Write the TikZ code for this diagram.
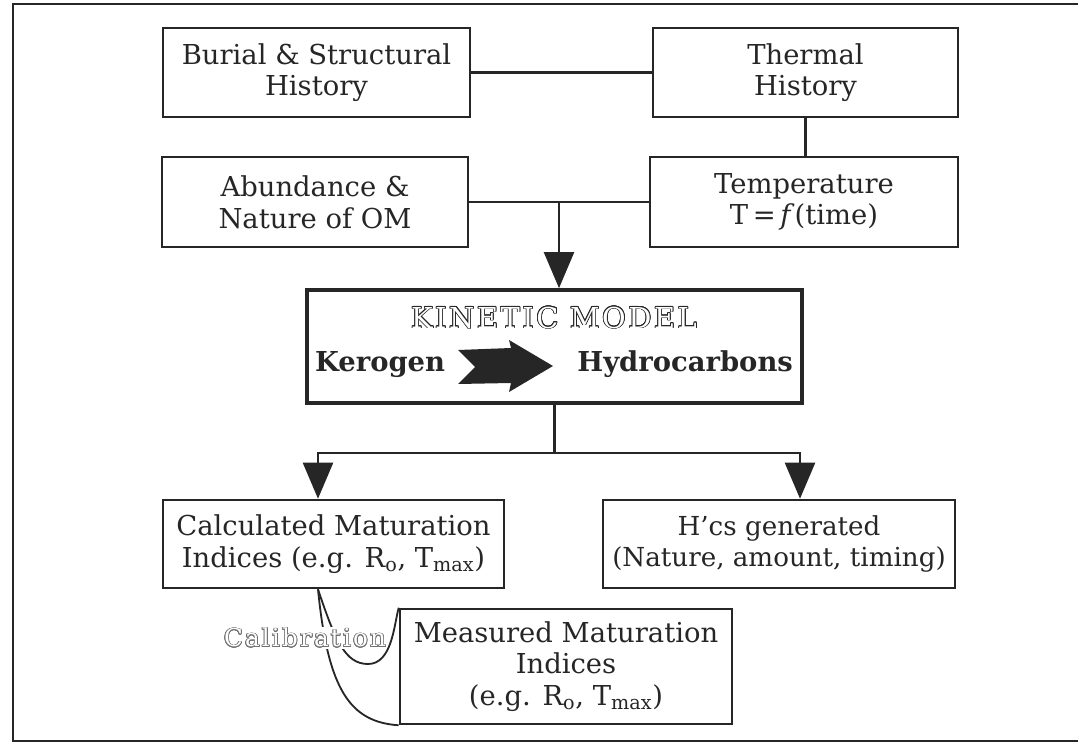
\documentclass[tikz,border=0pt]{standalone}
\usepackage{fontspec}
\setmainfont{DejaVu Serif}
\newfontfamily\hollowfont[LetterSpace=9]{DejaVu Serif}
\usepackage{contour}
\contourlength{0.55pt}
\usetikzlibrary{arrows.meta}
\definecolor{ink}{HTML}{262626}
\definecolor{faint}{HTML}{707070}
% white letters with a thin dark rim
\newcommand{\hollowtext}[2]{\textcolor{white}{\contour{#1}{#2}}}

\begin{document}
\begin{tikzpicture}[x=0.025cm,y=-0.025cm,color=ink,line width=1.6pt,
  >={Triangle[width=0.75cm,length=0.9cm]},
  box/.style={draw,line width=1.8pt,align=center,inner sep=0pt,font=\fontsize{19.5}{22.5}\selectfont},
  heavy/.style={font=\bfseries\fontsize{19.5}{22}\selectfont,inner sep=0pt},
  hollow/.style={font=\hollowfont\fontsize{20.5}{24}\selectfont,inner sep=0pt},
  curve/.style={line width=1.3pt}]
  \useasboundingbox (0,0) rectangle (1078,742);

  % frame
  \draw[line width=1.8pt] (1078,4) -- (13,4) -- (13,741) -- (1078,741);

  % boxes
  \node[box,minimum width=7.675cm,minimum height=2.225cm] (burial) at (316.5,72.5) {Burial \& Structural\\History};
  \node[box,minimum width=7.625cm,minimum height=2.225cm] (thermal) at (805.5,72.5) {Thermal\\History};
  \node[box,minimum width=7.65cm,minimum height=2.25cm] (abund) at (315,202) {Abundance \&\\Nature of OM};
  \node[box,minimum width=7.7cm,minimum height=2.25cm] (temp) at (804,202) {Temperature\\T\,=\,\textit{f}(time)};
  \node[box,line width=2.6pt,minimum width=12.375cm,minimum height=2.825cm] (kin) at (554.5,346.5) {};
  \node[box,minimum width=8.525cm,minimum height=2.2cm] (calc) at (333.5,544) {Calculated Maturation\\Indices (e.g. R\textsubscript{o}, T\textsubscript{max})};
  \node[box,minimum width=8.8cm,minimum height=2.2cm,font=\fontsize{18.6}{22.5}\selectfont] (hcs) at (779,544) {H'cs generated\\(Nature, amount, timing)};
  \node[box,minimum width=8.3cm,minimum height=2.875cm] (meas) at (566,666.5) {Measured Maturation\\Indices\\(e.g. R\textsubscript{o}, T\textsubscript{max})};

  % inside the model box
  \node[hollow] (title) at (554,318) {\hollowtext{ink}{KINETIC\hspace{0.4em}MODEL}};
  \node[heavy,anchor=base west] (kero) at (314,371) {Kerogen};
  \node[heavy,anchor=base east] (hydro) at (794,371) {Hydrocarbons};
  \fill (458,350) -- (511,348) -- (509,340) -- (553,366) -- (509,392) -- (511,383)
    -- (458,384) -- (475,367) -- cycle;

  % connectors
  \draw (burial) -- (thermal);
  \draw (thermal.south) -- (thermal.south |- temp.north);
  \draw (abund) -- (temp);
  \path (abund.east) -- (temp.west) coordinate[midway] (join);
  \draw[->] (join) -- (join |- kin.north);

  \coordinate (splitL) at (318,453);
  \coordinate (splitR) at (800,453);
  \draw[->] (kin.south) |- (splitL) -- (splitL |- calc.north);
  \draw[->] (kin.south |- splitR) -- (splitR) -- (splitR |- hcs.north);

  % calibration link
  \coordinate (calib) at (calc.south -| splitL);
  \draw[curve] (calib) .. controls (335,640) and (345,664) .. (368,664)
    .. controls (392,664) and (394,625) .. (meas.north west);
  \draw[curve] (calib) .. controls (328,690) and (350,722) .. (meas.south west);
  \node[hollow,fill=white,inner sep=1pt,font=\hollowfont\fontsize{17.5}{22}\selectfont] (caltext) at (305,638) {\hollowtext{faint}{Calibration}};
\end{tikzpicture}
\end{document}
